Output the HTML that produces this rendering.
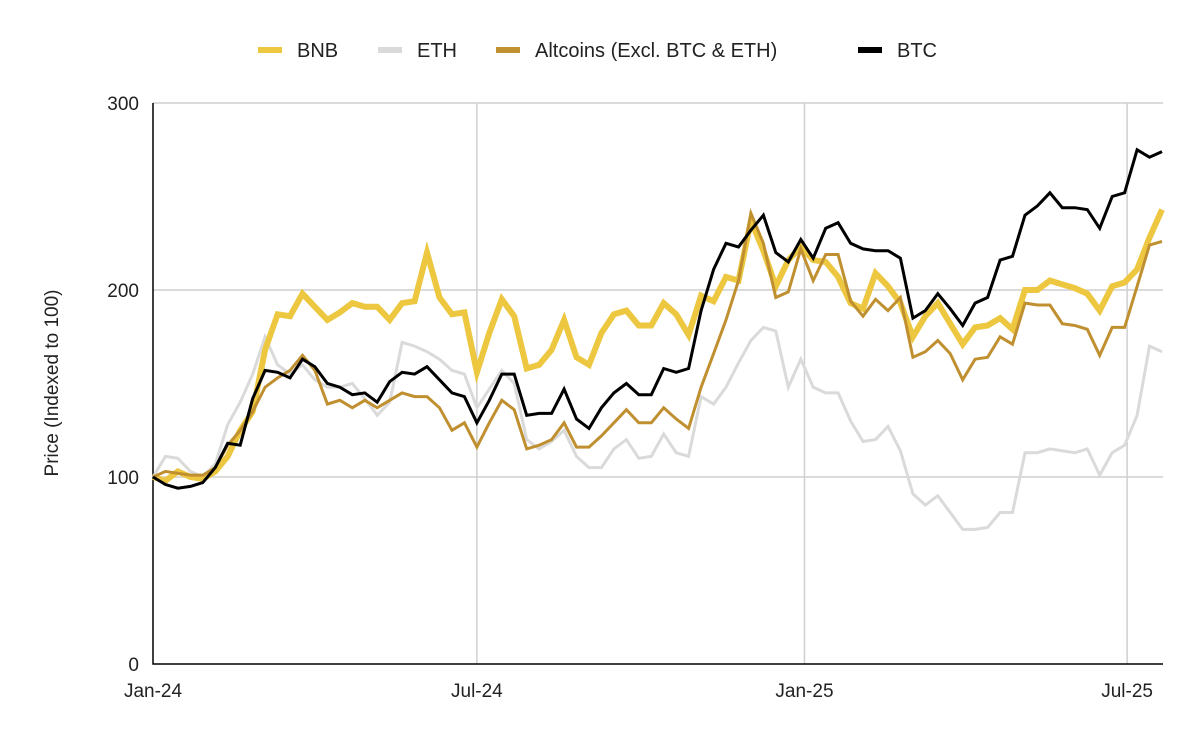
<!DOCTYPE html>
<html><head><meta charset="utf-8"><style>
body{margin:0;background:#fff;width:1200px;height:742px;overflow:hidden;font-family:"Liberation Sans",Arial,sans-serif}
</style></head><body>
<svg id="chart" width="1200" height="742" xmlns="http://www.w3.org/2000/svg" font-family="Liberation Sans, Arial, sans-serif"></svg>
<script>
const btc=[100,96,94,95,97,105,118,117,142,157,156,153,163,159,150,148,144,145,140,151,156,155,159,152,145,143,129,141,155,155,133,134,134,147,131,126,137,145,150,144,144,158,156,158,189,211,225,223,232,240,220,215,227,217,233,236,225,222,221,221,217,185,189,198,190,181,193,196,216,218,240,245,252,244,244,243,233,250,252,275,271,274];
const bnb=[100,98,103,100,99,103,111,125,135,168,187,186,198,191,184,188,193,191,191,184,193,194,220,196,187,188,156,177,195,186,158,160,168,184,164,160,177,187,189,181,181,193,187,176,197,194,207,205,237,221,202,216,223,216,215,207,193,190,209,202,193,175,186,193,182,171,180,181,185,179,200,200,205,203,201,198,189,202,204,211,228,243];
const alt=[100,103,102,101,101,105,117,125,135,148,153,157,165,157,139,141,137,141,137,141,145,143,143,137,125,129,116,129,141,136,115,117,120,129,116,116,122,129,136,129,129,137,131,126,148,166,184,205,241,225,196,199,222,205,219,219,194,186,195,189,196,164,167,173,166,152,163,164,175,171,193,192,192,182,181,179,165,180,180,202,224,226];
const eth=[100,111,110,103,100,107,128,140,155,175,160,155,160,152,148,148,150,142,133,140,172,170,167,163,157,155,137,147,157,150,120,115,119,125,111,105,105,115,120,110,111,123,113,111,143,139,148,161,173,180,178,148,163,148,145,145,130,119,120,127,114,91,85,90,81,72,72,73,81,81,113,113,115,114,113,115,101,113,117,133,170,167];
const yTicks=[0,100,200,300];
const xTickLabels=["Jan-24","Jul-24","Jan-25","Jul-25"];
const xTickIdx=[0,26,52.3,78.2];

const NS="http://www.w3.org/2000/svg";
const svg=document.getElementById('chart');
const X0=153,X1=1162,Y0=664,Y1=103,N=btc.length;
const xs=i=>X0+i*(X1-X0)/(N-1);
const ys=v=>Y0-(v/300)*(Y0-Y1);
function mk(t,a){const e=document.createElementNS(NS,t);for(const k in a)e.setAttribute(k,a[k]);svg.appendChild(e);return e;}

yTicks.forEach(v=>{
  if(v>0){const g=mk('line',{x1:X0,x2:1163,y1:ys(v),y2:ys(v),stroke:'#cfcfcf','stroke-width':1.5});
  
  }
  const t=mk('text',{x:139,y:ys(v)+7,'text-anchor':'end','font-size':19,fill:'#222'});t.textContent=v;
  
  
});
xTickIdx.forEach((ix,k)=>{
  const x=xs(ix);
  if(k>0){const g=mk('line',{x1:x,x2:x,y1:Y1,y2:Y0,stroke:'#cfcfcf','stroke-width':1.5});
  
  }
  const t=mk('text',{x:x,y:697,'text-anchor':'middle','font-size':19,fill:'#222'});t.textContent=xTickLabels[k];
  
  
});
const ax=mk('path',{d:`M${X0} ${Y1}V${Y0}H1163`,stroke:'#000','stroke-width':1.5,fill:'none'});



function series(arr,color,w,name){
  const d=arr.map((v,i)=>(i?'L':'M')+xs(i).toFixed(1)+' '+ys(v).toFixed(1)).join('');
  const p=mk('path',{d:d,stroke:color,'stroke-width':w,fill:'none','stroke-linejoin':'miter'});
  
  
}
series(eth,'#dadada',3,'eth-line');
series(bnb,'#ecc73f',6,'bnb-line');
series(alt,'#c09030',3,'altcoins-line');
series(btc,'#000000',3,'btc-line');

const yl=mk('text',{x:0,y:0,transform:'translate(58,383) rotate(-90)','text-anchor':'middle','font-size':19,fill:'#222'});
yl.textContent='Price (Indexed to 100)';



const leg=[['BNB','#ecc73f',6,258,'legend-bnb'],['ETH','#dadada',6,378,'legend-eth'],['Altcoins (Excl. BTC & ETH)','#c09030',6,496,'legend-altcoins'],['BTC','#000',6,858,'legend-btc']];
leg.forEach(l=>{
  const s=mk('line',{x1:l[3],x2:l[3]+24,y1:50,y2:50,stroke:l[1],'stroke-width':l[2]});
  
  
  const t=mk('text',{x:l[3]+39,y:57,'font-size':20,fill:'#222'});t.textContent=l[0];
  
  
});
</script>
</body></html>
